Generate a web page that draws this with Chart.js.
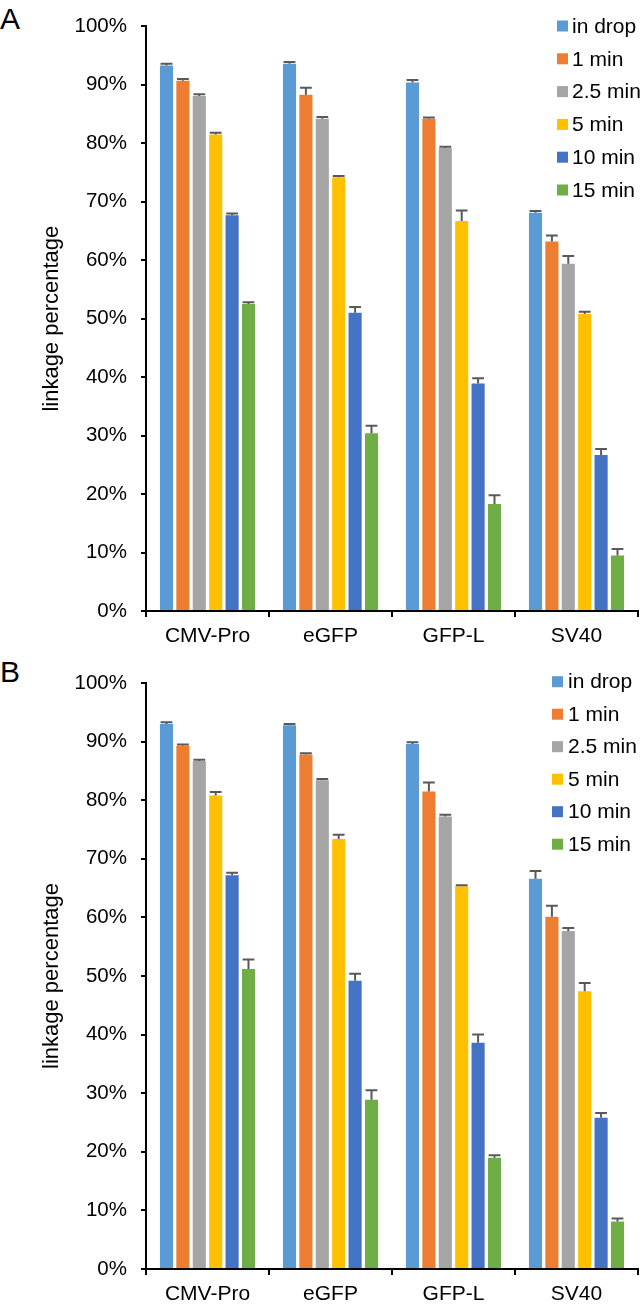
<!DOCTYPE html>
<html>
<head>
<meta charset="utf-8">
<script src="https://cdn.jsdelivr.net/npm/chart.js@4"></script>
<style>
  body { margin: 0; background: #fff; width: 643px; height: 1305px; position: relative; overflow: hidden; }
  canvas { position: absolute; left: 0; }
  .letter { position: absolute; left: 0; font-family: "Liberation Sans", Arial, sans-serif; font-size: 30px; color: #000; line-height: 1; }
</style>
</head>
<body>
<div class="letter" style="top: 4px;">A</div>
<div class="letter" style="top: 657px;">B</div>
<canvas id="chartA" width="643" height="650" style="top:0"></canvas>
<canvas id="chartB" width="643" height="655" style="top:650px"></canvas>
<script>
// categories and series
const categories = ['CMV-Pro', 'eGFP', 'GFP-L', 'SV40'];
const seriesNames = ['in drop', '1 min', '2.5 min', '5 min', '10 min', '15 min'];
const seriesColors = ['#5B9BD5', '#ED7D31', '#A5A5A5', '#FFC000', '#4472C4', '#70AD47'];

// panel A (linkage %, mean and + error)
const inDropA = [93.3, 93.6, 90.4, 68.1];
const min1A = [90.7, 88.3, 84.2, 63.2];
const min2_5A = [88.1, 84.2, 79.2, 59.4];
const min5A = [81.5, 74.2, 66.7, 50.8];
const min10A = [67.7, 51.0, 38.9, 26.7];
const min15A = [52.5, 30.4, 18.3, 9.5];
const inDropErrA = [0.3, 0.3, 0.4, 0.3];
const min1ErrA = [0.3, 1.2, 0.2, 1.0];
const min2_5ErrA = [0.3, 0.3, 0.2, 1.3];
const min5ErrA = [0.3, 0.2, 1.8, 0.4];
const min10ErrA = [0.3, 1.0, 0.9, 1.0];
const min15ErrA = [0.3, 1.3, 1.5, 1.1];

// panel B
const inDropB = [93.0, 92.8, 89.6, 66.6];
const min1B = [89.3, 87.8, 81.5, 60.1];
const min2_5B = [86.7, 83.4, 77.2, 57.7];
const min5B = [80.8, 73.4, 65.3, 47.4];
const min10B = [67.2, 49.2, 38.6, 25.8];
const min15B = [51.2, 28.9, 19.0, 8.1];
const inDropErrB = [0.3, 0.2, 0.3, 1.3];
const min1ErrB = [0.2, 0.2, 1.5, 1.9];
const min2_5ErrB = [0.2, 0.2, 0.3, 0.5];
const min5ErrB = [0.6, 0.7, 0.2, 1.4];
const min10ErrB = [0.4, 1.2, 1.4, 0.8];
const min15ErrB = [1.6, 1.6, 0.4, 0.5];

const yTicks = [0, 10, 20, 30, 40, 50, 60, 70, 80, 90, 100];

const fontFam = '"Liberation Sans", Arial, sans-serif';

//draws the + error bars on top of each bar
const errorBars = {
    id: 'errorBars',
    afterDatasetsDraw(chart) {
        const ctx = chart.ctx;
        const yScale = chart.scales.y;
        ctx.save();
        ctx.strokeStyle = '#595959';
        ctx.lineWidth = 2;
        chart.data.datasets.forEach((ds, di) => {
            const meta = chart.getDatasetMeta(di);
            meta.data.forEach((bar, i) => {
                const top = yScale.getPixelForValue(ds.data[i] + ds.errors[i]);
                const half = bar.width * 0.45;
                ctx.beginPath();
                ctx.moveTo(bar.x, bar.y);
                ctx.lineTo(bar.x, top);
                ctx.moveTo(bar.x - half, top);
                ctx.lineTo(bar.x + half, top);
                ctx.stroke();
            });
        });
        ctx.restore();
    }
};

//legend inside the plot area, top right
const insideLegend = {
    id: 'insideLegend',
    afterDraw(chart, args, opts) {
        const ctx = chart.ctx;
        ctx.save();
        ctx.font = '21px ' + fontFam;
        ctx.textBaseline = 'middle';
        ctx.textAlign = 'left';
        chart.data.datasets.forEach((ds, i) => {
            const cy = opts.y + i * opts.step;
            ctx.fillStyle = ds.backgroundColor;
            ctx.fillRect(opts.x, cy - 5.5, 11, 11);
            ctx.fillStyle = '#000';
            ctx.fillText(ds.label, opts.textX, cy + 1);
        });
        ctx.restore();
    }
};

function makeChart(id, values, errors, lay) {
    const datasets = seriesNames.map((name, i) => ({
        label: name,
        data: values[i],
        errors: errors[i],
        backgroundColor: seriesColors[i],
        categoryPercentage: 0.8,
        barPercentage: 0.8
    }));
    return new Chart(document.getElementById(id), {
        type: 'bar',
        data: { labels: categories, datasets: datasets },
        plugins: [errorBars, insideLegend],
        options: {
            responsive: false,
            animation: false,
            devicePixelRatio: 1,
            layout: { padding: { top: lay.top, right: 5, left: 0, bottom: 0 } },
            plugins: {
                legend: { display: false },
                tooltip: { enabled: false },
                insideLegend: lay.legend
            },
            scales: {
                x: {
                    grid: { offset: true, drawOnChartArea: false, tickLength: 6, color: '#000', lineWidth: 2 },
                    border: { color: '#000', width: 2 },
                    ticks: { color: '#000', padding: 7, font: { family: fontFam, size: 21 } },
                    afterFit(scale) { scale.height = lay.xHeight; }
                },
                y: {
                    min: 0,
                    max: 100,
                    afterBuildTicks(scale) { scale.ticks = yTicks.map(v => ({ value: v })); },
                    grid: { drawOnChartArea: false, tickLength: 5, color: '#000', lineWidth: 2 },
                    border: { color: '#000', width: 2 },
                    ticks: { color: '#000', padding: 14, font: { family: fontFam, size: 20.5 }, callback: v => v + '%' },
                    title: { display: true, text: 'linkage percentage', color: '#000', font: { family: fontFam, size: 22 }, padding: { top: 39, bottom: 0 } },
                    afterFit(scale) { scale.width = 146; }
                }
            }
        }
    });
}

makeChart('chartA',
    [inDropA, min1A, min2_5A, min5A, min10A, min15A],
    [inDropErrA, min1ErrA, min2_5ErrA, min5ErrA, min10ErrA, min15ErrA],
    { top: 26, xHeight: 39, legend: { x: 557, textX: 572, y: 26, step: 32.8 } });

makeChart('chartB',
    [inDropB, min1B, min2_5B, min5B, min10B, min15B],
    [inDropErrB, min1ErrB, min2_5ErrB, min5ErrB, min10ErrB, min15ErrB],
    { top: 33, xHeight: 36, legend: { x: 552, textX: 568, y: 31.7, step: 32.5 } });
</script>
</body>
</html>
